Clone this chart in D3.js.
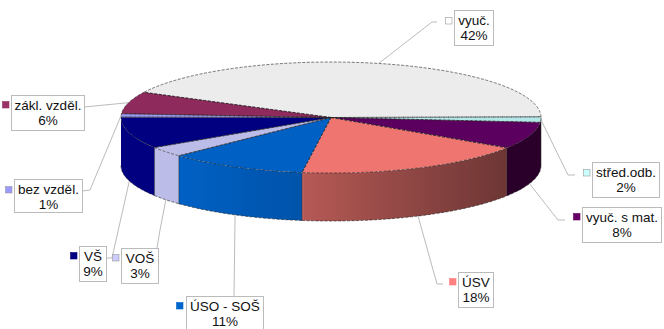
<!DOCTYPE html>
<html><head><meta charset="utf-8">
<script src="https://cdn.jsdelivr.net/npm/d3@7"></script>
<style>html,body{margin:0;background:#fff}svg{display:block}text{font-family:"Liberation Sans",Arial,sans-serif;font-size:13.5px;fill:#111}</style>
</head><body><svg width="664" height="329"></svg>
<script>
const categories=["vyuč.","střed.odb.","vyuč. s mat.","ÚSV","ÚSO - SOŠ","VOŠ","VŠ","bez vzděl.","zákl. vzděl."];
const values=[42.3,1.6,7.8,18,10.7,3,9.2,1,6.4];
const colors=["#ececec","#b4e8e8","#5c005e","#ee7570","#0060c4","#bcbce8","#000080","#9999ee","#8e2a5c"];
const keyColors=["#ffffff","#ccffff","#660066","#ff8080","#0066cc","#ccccff","#000080","#9999ff","#993366"];
// label layout: box x,y,w,h, key x,y, leader elbow points
const boxes=[
 {x:454,y:10,w:39,h:35,kx:445,ky:17,path:[[437,22],[432,22]]},
 {x:592,y:162,w:67,h:35,kx:583,ky:169,path:[[575,175],[568,175]]},
 {x:582,y:207,w:79,h:35,kx:573,ky:213,path:[[565,220],[558,220]]},
 {x:458,y:272,w:35,h:35,kx:449,ky:278,path:[[443,284],[437,284]]},
 {x:186,y:296,w:77,h:35,kx:176,ky:302,path:[[234,296]]},
 {x:121,y:248,w:37,h:35,kx:112,ky:254,path:[[157,248],[160,230]]},
 {x:79,y:246,w:27,h:35,kx:70,ky:252,path:[[106,258],[112,258]]},
 {x:14,y:179,w:68,h:33,kx:5,ky:186,path:[[82,191],[90,190]]},
 {x:11,y:95,w:73,h:35,kx:2,ky:101,path:[[84,107]]}
];
const cx=331,cy=117.5,rx=210,ry=55.5,depth=48;
const svg=d3.select("svg");
const deg=Math.PI/180;
// d3.pie angles are from north clockwise; start of first slice
const start=297*deg;
const pie=d3.pie().sort(null).value(d=>d).startAngle(start).endAngle(start+2*Math.PI);
const arcs=pie(values);
const xS=d3.scaleLinear().domain([-1,1]).range([cx-rx,cx+rx]);
const yS=d3.scaleLinear().domain([-1,1]).range([cy-ry,cy+ry]);
const px=a=>xS(Math.sin(a)), py=(a,d=0)=>yS(-Math.cos(a))+d;

const defs=svg.append("defs");
const f=defs.append("filter").attr("id","soft").attr("x","-5%").attr("y","-5%").attr("width","110%").attr("height","110%");
f.append("feGaussianBlur").attr("stdDeviation",0.3);
const shadeStops=[[121,1],[180,1],[303,.86],[304,.76],[506,.46],[541,.46]];
const line=d3.line();

const pieG=svg.append("g").attr("filter","url(#soft)");
// walls: front half only (d3 angle 90..270 degrees)
const lo=90*deg, hi=270*deg;
let pending=null;
arcs.forEach((d,i)=>{
  const base=d3.rgb(colors[i]);
  const segs=[[d.startAngle,d.endAngle],[d.startAngle-2*Math.PI,d.endAngle-2*Math.PI]];
  segs.forEach(([s,e])=>{
    let a0=Math.max(s,lo),a1=Math.min(e,hi);
    if(a1<=a0) return;
    if(a1-a0<=0.12){ pending=a0; return; } // too thin to show: neighbour wall takes it over
    if(pending!==null){a0=pending;pending=null;}
    const grad=defs.append("linearGradient").attr("id","w"+i).attr("gradientUnits","userSpaceOnUse")
      .attr("x1",cx-rx).attr("x2",cx+rx).attr("y1",0).attr("y2",0);
    shadeStops.forEach(([x,k])=>grad.append("stop").attr("offset",(x-cx+rx)/(2*rx))
      .attr("stop-color",d3.rgb(base.r*k,base.g*k,base.b*k).formatHex()));
    const as=d3.range(a0,a1,0.02).concat([a1]);
    const top=as.map(a=>[px(a),py(a)]);
    const bot=as.slice().reverse().map(a=>[px(a),py(a,depth)]);
    pieG.append("path").attr("d",line(top.concat(bot))+"Z").attr("fill",`url(#w${i})`);
    pieG.append("path").attr("d",line(bot)).attr("fill","none").attr("stroke","#222").attr("stroke-width",.6).attr("stroke-dasharray","3,1.5");
    pieG.append("path").attr("d",line([top[0],bot[bot.length-1]])).attr("fill","none").attr("stroke","#222").attr("stroke-width",.5);
  });
});
// top faces
const arc=d3.arc().innerRadius(0).outerRadius(rx);
pieG.append("g").attr("transform",`translate(${cx},${cy}) scale(1,${ry/rx})`)
 .selectAll("path").data(arcs).join("path")
 .attr("d",arc).attr("fill",(d,i)=>colors[i]);
pieG.append("g").selectAll("path").data(arcs).join("path")
 .attr("d",d=>{
   const as=d3.range(d.startAngle,d.endAngle,0.01).concat([d.endAngle]);
   return line([[cx,cy]].concat(as.map(a=>[px(a),py(a)])))+"Z";
 }).attr("fill","none").attr("stroke","#222").attr("stroke-width",.6).attr("stroke-dasharray","3,1.5");

// labels
const total=d3.sum(values);
arcs.forEach((d,i)=>{
  const b=boxes[i];
  const mid=(d.startAngle+d.endAngle)/2;
  const m=((mid/deg)%360+360)%360;
  const onWall=m>100&&m<265;
  const end=[px(mid),py(mid,onWall?depth:0)];
  svg.append("path").attr("d",line(b.path.concat([end]))).attr("fill","none").attr("stroke","#aaa").attr("stroke-width",.8);
  svg.append("rect").attr("x",b.x+.5).attr("y",b.y+.5).attr("width",b.w).attr("height",b.h).attr("fill","#fff").attr("stroke","#bbb");
  svg.append("rect").attr("x",b.kx+.5).attr("y",b.ky+.5).attr("width",6.5).attr("height",6.5).attr("fill",keyColors[i]).attr("stroke",i<2||i==5||i==7?"#999":keyColors[i]).attr("stroke-width",.6);
  const t=svg.append("text").attr("text-anchor","middle");
  t.append("tspan").attr("x",b.x+b.w/2+.5).attr("y",b.y+15).text(categories[i]);
  t.append("tspan").attr("x",b.x+b.w/2+.5).attr("y",b.y+30).text(d3.format(".0%")(values[i]/total));
});
</script></body></html>
